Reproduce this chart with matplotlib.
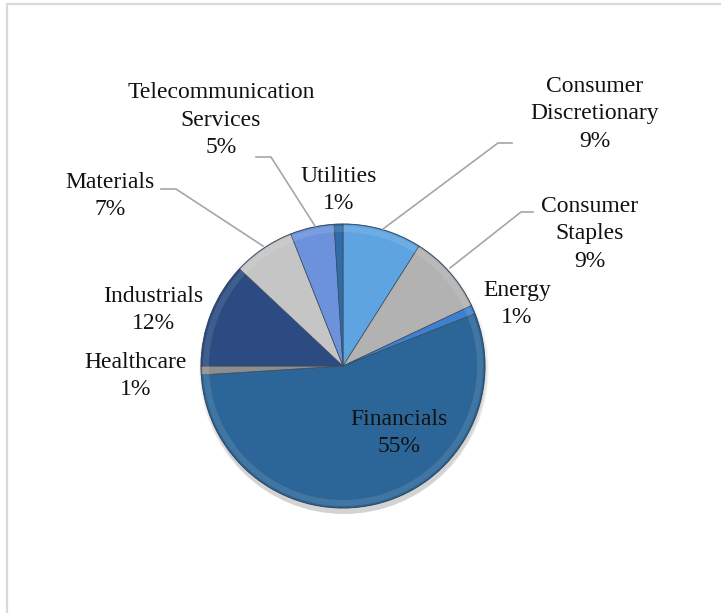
import matplotlib
matplotlib.use("Agg")
from matplotlib import pyplot as plt
from matplotlib.patches import Circle, Rectangle

# sector weights (%)
sectors = ["Consumer\nDiscretionary", "Consumer\nStaples", "Energy", "Financials",
           "Healthcare", "Industrials", "Materials", "Telecommunication\nServices",
           "Utilities"]
shares = [9, 9, 1, 55, 1, 12, 7, 5, 1]
colors = ["#5DA4E0", "#B2B2B2", "#3F7FD0", "#2C6698", "#8E8E8E",
          "#2B4B82", "#C5C5C5", "#6B92DA", "#2F6CA8"]

# label anchor points in pixels (x, y from top)
label_pos = [(595, 114), (590, 234), (517, 304), (399, 433), (136, 376),
             (153, 310), (110, 196), (221, 120), (339, 190)]
# leader lines for the labels that sit away from their slice
leaders = {
    0: [(512, 143), (498, 143), (383, 229)],
    1: [(533, 212), (521, 212), (450, 268)],
    6: [(161, 189), (176, 189), (263, 246)],
    7: [(256, 157), (271, 157), (315, 226)],
}

W, H = 721, 613
fig = plt.figure(figsize=(W / 100, H / 100), dpi=100)
ax = fig.add_axes([0, 0, 1, 1])
ax.set_xlim(0, W)
ax.set_ylim(0, H)
ax.axis("off")

def fy(y):
    return H - y

cx, cy, r = 343, fy(366), 142

# chart area border
ax.add_patch(Rectangle((7, -10), W + 10, fy(4) + 10, fill=False,
                       edgecolor="#D9D9D9", linewidth=1.6))

# soft shadow under the pie
for i in range(5):
    ax.add_patch(Circle((cx + 1, cy - 3 - i), r + 3 - i, color="black",
                        alpha=0.035, linewidth=0, zorder=1))

wedges, _ = ax.pie(shares, colors=colors, startangle=90, counterclock=False,
                   center=(cx, cy), radius=r, frame=True,
                   wedgeprops=dict(edgecolor="#3a4a5a", linewidth=0.5))
for w in wedges:
    w.set_zorder(2)

# bevel highlight along the rim
rim, _ = ax.pie(shares, colors=["white"] * len(shares), startangle=90,
                counterclock=False, center=(cx, cy), radius=r - 2, frame=True,
                wedgeprops=dict(width=6, linewidth=0, alpha=0.1))
for w in rim:
    w.set_zorder(3)
ax.add_patch(Circle((cx, cy), r, fill=False, edgecolor="#1f3550",
                    linewidth=0.8, alpha=0.45, zorder=4))

ax.set_xlim(0, W)
ax.set_ylim(0, H)
ax.set_aspect("auto")

for i, (name, val) in enumerate(zip(sectors, shares)):
    x, y = label_pos[i]
    ax.text(x, fy(y), f"{name}\n{val}%", ha="center", va="center",
            fontsize=17, family="Liberation Serif", color="#111111",
            linespacing=1.4, zorder=6)

for pts in leaders.values():
    ax.plot([p[0] for p in pts], [fy(p[1]) for p in pts], color="#A6A6A6",
            linewidth=1.2, zorder=5)

fig.savefig("out.png", dpi=100, facecolor="white")
